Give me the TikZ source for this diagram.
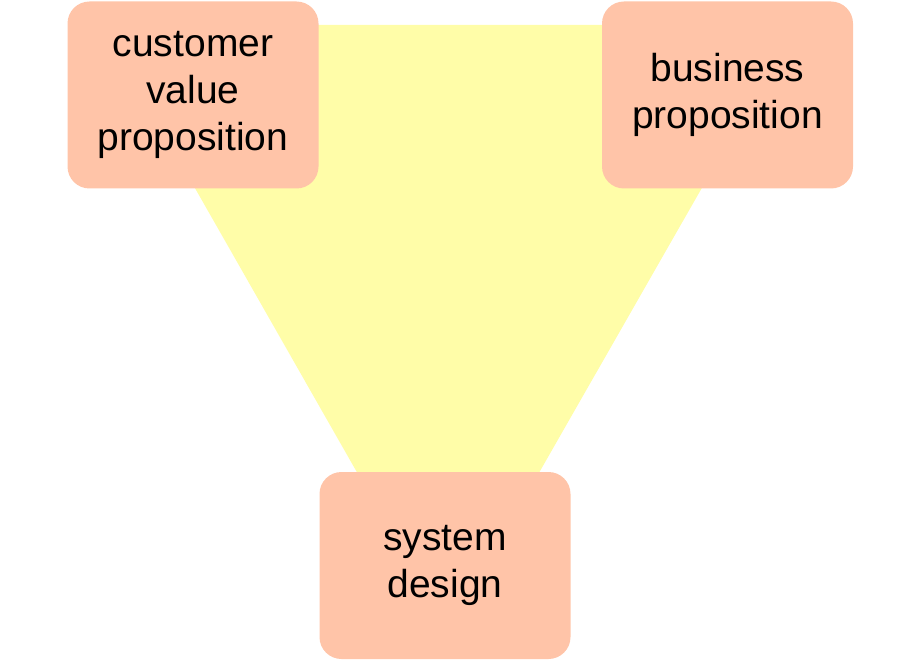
\documentclass[tikz,border=0pt]{standalone}
\usepackage{fontspec}
\setmainfont{Liberation Sans}
\usepackage{tikz}
\usetikzlibrary{shapes,positioning,calc}

\definecolor{boxsalmon}{RGB}{255,196,168}
\definecolor{areayellow}{RGB}{255,253,168}

\begin{document}
\begin{tikzpicture}[x=1pt, y=-1pt,
    font=\fontsize{39}{47}\selectfont,
    corner/.style={
      rectangle, rounded corners=22pt, fill=boxsalmon, draw=none,
      minimum width=251pt, minimum height=187pt, align=center,
      inner sep=0pt, anchor=center
    }
  ]
    \useasboundingbox (0,0) rectangle (920,660);

    % area behind the three boxes
    \fill [areayellow] (102,25) -- (795,25) -- (448,632) -- cycle;

    \node [corner] (cvp) at (193,95) {
      customer \\ value \\ proposition
    };
    \node [corner] (bp) at (727.5,95) {
      business \\ proposition
    };
    \node [corner] (sd) at (445,565.5) {
      system \\ design
    };
\end{tikzpicture}
\end{document}
